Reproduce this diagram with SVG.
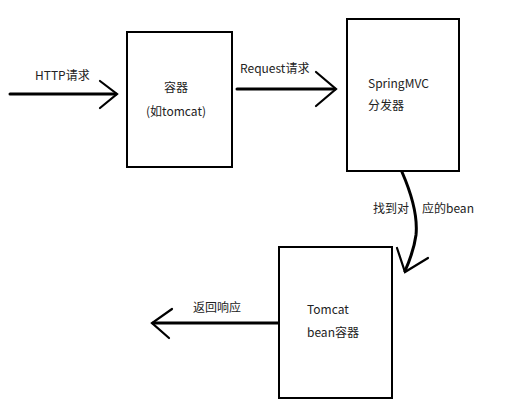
<svg xmlns="http://www.w3.org/2000/svg" width="524" height="410" viewBox="0 0 524 410">
<style>
.box{fill:#fff;stroke:#000;stroke-width:2}
.ln{fill:none;stroke:#000;stroke-width:3;stroke-linecap:round}
.hd{fill:none;stroke:#000;stroke-width:2.2;stroke-linecap:round;stroke-linejoin:miter}
text{font-family:"Noto Sans CJK SC","Noto Sans",sans-serif;font-size:12px;fill:#222}
</style>
<rect width="524" height="410" fill="#fff"/>
<g id="connectors">
<g id="c1">
<line class="ln" x1="10" y1="94" x2="116" y2="94"/>
<polyline class="hd" points="100,81 117,94 100,108"/>
<text x="35" y="80">HTTP请求</text>
</g>
<g id="c2">
<line class="ln" x1="237" y1="89" x2="335" y2="89"/>
<polyline class="hd" points="316,72 336,89 316,106"/>
<text x="240" y="73">Request请求</text>
</g>
<g id="c3">
<text y="213"><tspan x="373">找到对</tspan><tspan x="422">应的bean</tspan></text>
<path class="ln" d="M402,172 C412,195 418,215 416,235 C414,250 409,262 405,271"/>
<polyline class="hd" points="397,248 405,272 428,258"/>
</g>
<g id="c4">
<line class="ln" x1="279" y1="323" x2="153" y2="323"/>
<polyline class="hd" points="172,309 152,323 169,338"/>
<text x="193" y="312">返回响应</text>
</g>
</g>
<g id="container">
<rect class="box" x="127" y="32" width="105" height="135"/>
<text x="176" y="92" text-anchor="middle">容器</text>
<text x="176" y="116" text-anchor="middle">(如tomcat)</text>
</g>
<g id="dispatcher">
<rect class="box" x="347" y="19" width="112" height="152"/>
<text x="368" y="88">SpringMVC</text>
<text x="368" y="110">分发器</text>
</g>
<g id="beancontainer">
<rect class="box" x="279" y="247" width="113" height="151"/>
<text x="307" y="314">Tomcat</text>
<text x="307" y="337">bean容器</text>
</g>
</svg>
